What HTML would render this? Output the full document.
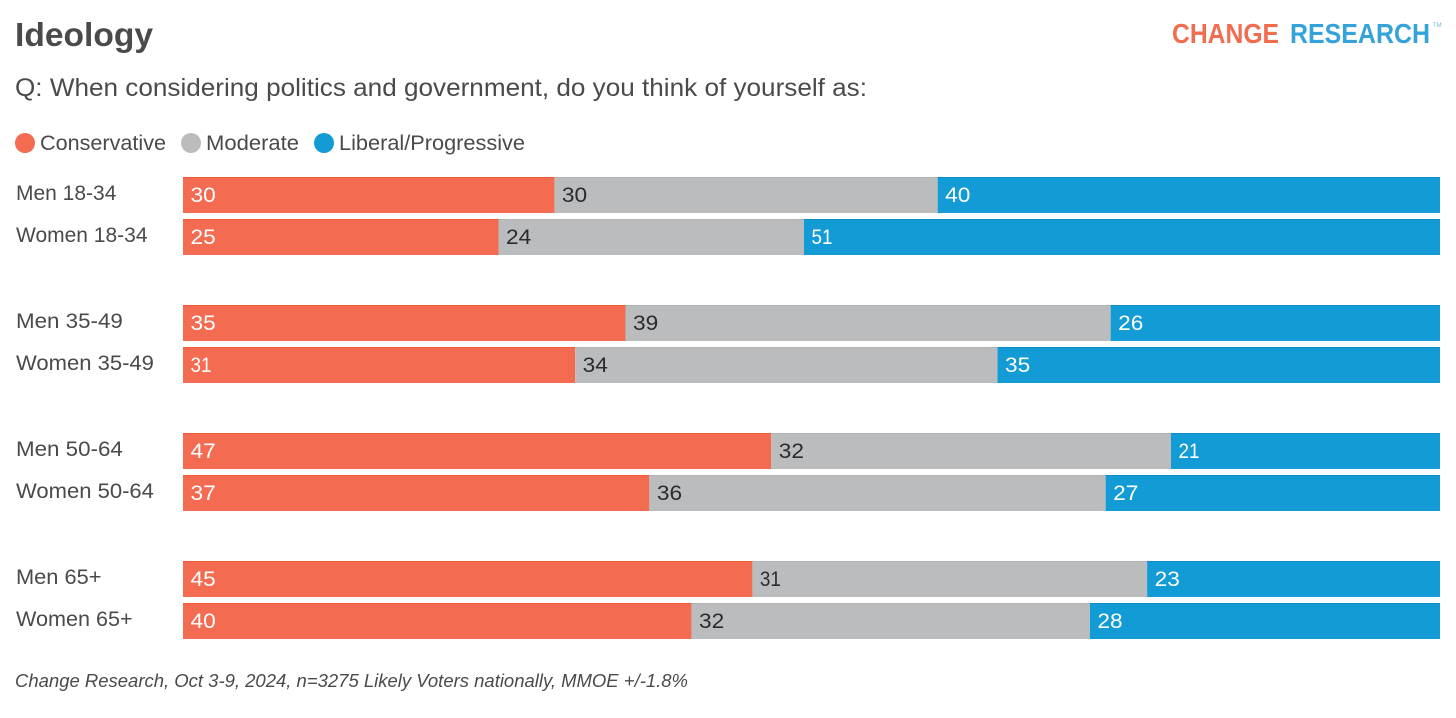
<!DOCTYPE html>
<html lang="en">
<head>
<meta charset="utf-8">
<title>Ideology</title>
<style>
html,body{margin:0;padding:0;background:#fff;width:1456px;height:718px;overflow:hidden}
svg{display:block}
text{font-family:"Liberation Sans",sans-serif}
</style>
</head>
<body>
<svg id="chart" xmlns="http://www.w3.org/2000/svg" width="1456" height="718" viewBox="0 0 1456 718">
  <rect x="0" y="0" width="1456" height="718" fill="#ffffff"/>
  <text x="15" y="46" font-size="33" font-weight="700" fill="#4a4a4c" textLength="138" lengthAdjust="spacingAndGlyphs">Ideology</text>
  <text x="15" y="96" font-size="25" fill="#4a4a4c" textLength="852" lengthAdjust="spacingAndGlyphs">Q: When considering politics and government, do you think of yourself as:</text>
  <text x="1172" y="43" font-size="28" font-weight="700" fill="#f26c4f" textLength="107" lengthAdjust="spacingAndGlyphs">CHANGE</text>
  <text x="1290" y="43" font-size="28" font-weight="700" fill="#35a3da" textLength="140" lengthAdjust="spacingAndGlyphs">RESEARCH</text>
  <text x="1433" y="27" font-size="6" fill="#6fb9e0">TM</text>

  <circle cx="25" cy="143" r="10" fill="#f36b50"/>
  <text x="40" y="150" font-size="21" fill="#4a4a4c" textLength="126" lengthAdjust="spacingAndGlyphs">Conservative</text>
  <circle cx="191" cy="143" r="10" fill="#bbbcbe"/>
  <text x="206" y="150" font-size="21" fill="#4a4a4c" textLength="93" lengthAdjust="spacingAndGlyphs">Moderate</text>
  <circle cx="324" cy="143" r="10" fill="#129bd5"/>
  <text x="339" y="150" font-size="21" fill="#4a4a4c" textLength="186" lengthAdjust="spacingAndGlyphs">Liberal/Progressive</text>

  <g id="rows"></g>

  <text x="15" y="687" font-size="18" font-style="italic" fill="#4a4a4c" textLength="673" lengthAdjust="spacingAndGlyphs">Change Research, Oct 3-9, 2024, n=3275 Likely Voters nationally, MMOE +/-1.8%</text>
</svg>
<script>
const categories = ["Men 18-34", "Women 18-34", "Men 35-49", "Women 35-49", "Men 50-64", "Women 50-64", "Men 65+", "Women 65+"];
const conservative = [29.55, 25.1, 35.2, 31.2, 46.8, 37.1, 45.3, 40.45];
const moderate = [30.49, 24.3, 38.6, 33.6, 31.8, 36.3, 31.4, 31.7];
const liberal = [39.96, 50.6, 26.2, 35.2, 21.4, 26.6, 23.3, 27.85];

const NS = 'http://www.w3.org/2000/svg';
const plotLeft = 183, plotRight = 1440, domainMax = 100;
const rowTop = 177, barH = 36, innerStep = 42, groupStep = 128;
const xScale = function (v) { return plotLeft + (v / domainMax) * (plotRight - plotLeft); };
const yScale = function (i) { return rowTop + Math.floor(i / 2) * groupStep + (i % 2) * innerStep; };
const group = document.getElementById('rows');

/* the reference typeface has wider digits but a narrow "1" */
function fitValue(el) {
  const natural = el.getComputedTextLength();
  const factor = el.textContent.indexOf('1') >= 0 ? 0.9 : 1.08;
  el.setAttribute('textLength', natural * factor);
  el.setAttribute('lengthAdjust', 'spacingAndGlyphs');
}
function fitCategory(el) {
  const text = el.textContent;
  if (text.indexOf('1') >= 0) return;
  const digits = text.replace(/[^0-9]/g, '').length;
  el.setAttribute('textLength', el.getComputedTextLength() + digits * 1.6);
  el.setAttribute('lengthAdjust', 'spacingAndGlyphs');
}

function addBar(i, start, value, fill, stroke, textFill) {
  const x0 = xScale(start), x1 = xScale(start + value), y = yScale(i);
  const rect = document.createElementNS(NS, 'rect');
  
  
  rect.setAttribute('x', x0);
  rect.setAttribute('y', y);
  rect.setAttribute('width', x1 - x0);
  rect.setAttribute('height', barH);
  rect.setAttribute('fill', fill);
  group.appendChild(rect);
  const top = document.createElementNS(NS, 'rect');
  
  
  top.setAttribute('x', x0);
  top.setAttribute('y', y);
  top.setAttribute('width', x1 - x0);
  top.setAttribute('height', 1);
  top.setAttribute('fill', stroke);
  group.appendChild(top);
  const label = document.createElementNS(NS, 'text');
  
  
  label.setAttribute('x', x0 + 7.5);
  label.setAttribute('y', y + 25);
  label.setAttribute('font-size', '21');
  label.setAttribute('fill', textFill);
  label.textContent = String(Math.round(value));
  group.appendChild(label);
  fitValue(label);
}

categories.forEach(function (name, i) {
  const label = document.createElementNS(NS, 'text');
  
  
  label.setAttribute('x', 16);
  label.setAttribute('y', yScale(i) + 23);
  label.setAttribute('font-size', '21');
  label.setAttribute('fill', '#4a4a4c');
  label.textContent = name;
  group.appendChild(label);
  fitCategory(label);
  addBar(i, 0, conservative[i], '#f36b50', '#f25a38', '#ffffff');
  addBar(i, conservative[i], moderate[i], '#bbbcbe', '#b2b3b5', '#2b2b2d');
  addBar(i, conservative[i] + moderate[i], liberal[i], '#129bd5', '#0e8cc6', '#ffffff');
});
</script>
</body>
</html>
